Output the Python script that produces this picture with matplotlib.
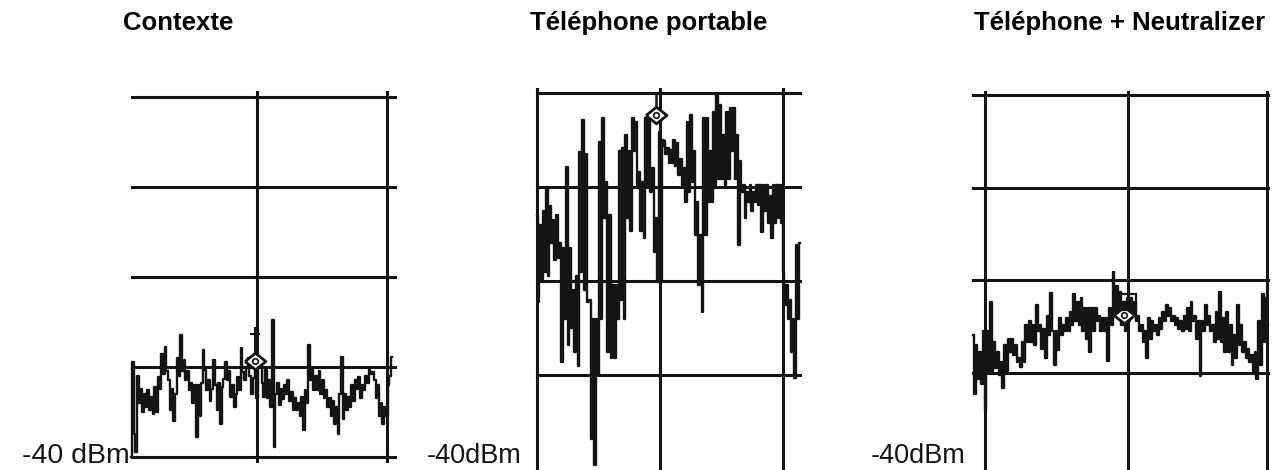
import numpy as np
import matplotlib.pyplot as plt

plt.rcParams['font.family'] = ['Liberation Sans', 'DejaVu Sans']

W, H = 1274, 470

titres = ['Contexte', 'Téléphone portable', 'Téléphone + Neutralizer']
etiquettes = ['-40 dBm', '-40dBm', '-40dBm']
niveaux = [0, -10, -20, -30, -40]   # lignes du graticule (dBm)

# relevés de l'analyseur de spectre (dBm), balayage de gauche à droite
trace_contexte = [
    -40.0, -29.5, -37.5, -39.5, -31.0, -34.0, -32.5, -35.0, -33.0, -34.5,
    -32.6, -34.8, -33.3, -35.2, -32.2, -35.0, -31.1, -32.5, -28.6, -30.8,
    -27.8, -30.5, -31.5, -34.8, -32.5, -36.0, -33.0, -29.0, -31.0, -26.4,
    -30.5, -29.2, -31.5, -30.5, -32.6, -31.8, -34.0, -32.0, -37.8, -32.0,
    -35.5, -31.8, -28.1, -30.3, -32.6, -31.5, -33.8, -32.5, -29.2, -32.0,
    -34.8, -31.8, -36.3, -32.2, -31.3, -29.4, -31.5, -30.5, -33.3, -32.0,
    -34.5, -33.0, -31.1, -32.6, -27.9, -30.6, -31.5, -30.0, -29.0, -31.0,
    -33.0, -31.2, -29.8, -33.5, -30.0, -29.5, -31.8, -33.3, -30.3, -33.5,
    -31.5, -34.5, -24.8, -38.9, -33.0, -31.8, -34.2, -32.4, -33.6, -32.0,
    -33.0, -31.5, -33.8, -32.8, -34.8, -33.5, -34.8, -34.0, -35.5, -33.3,
    -37.0, -32.6, -34.0, -27.6, -31.5, -30.3, -32.6, -31.0, -32.6, -30.5,
    -33.0, -31.5, -33.5, -32.6, -34.5, -33.5, -35.5, -33.8, -36.3, -34.5,
    -37.5, -33.0, -28.9, -35.8, -33.0, -34.8, -33.3, -34.5, -32.0, -33.8,
    -31.5, -32.5, -31.1, -33.5, -32.0, -32.6, -31.0, -31.8, -30.3, -30.8,
    -30.6, -31.5, -33.5, -32.0, -35.5, -34.0, -36.3, -34.5, -35.5, -32.0,
    -31.0, -28.9,
]

trace_portable = [
    -13.0, -22.2, -14.0, -20.0, -12.5, -19.0, -10.1, -19.5, -12.0, -16.0,
    -13.5, -17.8, -13.0, -17.5, -16.0, -28.6, -16.5, -24.0, -7.9, -26.8,
    -16.5, -25.0, -21.0, -27.5, -19.5, -29.0, -6.3, -19.0, -2.9, -21.0,
    -6.5, -22.2, -22.0, -36.8, -24.0, -39.6, -24.0, -30.0, -5.2, -24.0,
    -2.7, -13.3, -9.5, -27.5, -13.0, -28.2, -20.4, -28.2, -20.4, -24.0,
    -6.2, -22.0, -5.8, -24.0, -4.5, -13.3, -6.2, -14.7, -2.7, -6.2,
    -3.1, -9.8, -8.4, -14.7, -9.5, -15.4, -2.7, -9.8, -2.7, -10.5,
    -8.0, -16.9, -13.3, -20.1, -4.2, -20.1, -5.0, -5.3, -6.5, -5.8,
    -7.4, -6.1, -7.4, -5.0, -7.8, -5.3, -8.7, -7.0, -9.8, -8.0,
    -11.6, -3.1, -10.5, -2.3, -9.5, -6.2, -15.1, -11.6, -20.4, -15.1,
    -23.3, -2.7, -15.1, -2.7, -11.6, -6.2, -11.6, -2.0, -9.8, -0.2,
    -9.1, -1.3, -9.1, -4.5, -9.8, -2.0, -9.1, -1.6, -6.2, -1.6,
    -9.1, -4.5, -16.2, -7.2, -10.5, -9.8, -13.3, -10.5, -11.6, -9.8,
    -12.5, -10.5, -11.6, -9.8, -11.9, -9.8, -14.8, -9.8, -12.5, -9.8,
    -13.8, -11.0, -15.4, -9.8, -13.8, -9.8, -13.3, -9.8, -13.8, -19.0,
    -22.6, -20.4, -24.0, -22.0, -27.5, -24.0, -30.3, -16.2, -24.0, -16.0,
]

trace_neutralizer = [
    -25.9, -32.3, -27.0, -30.6, -27.7, -31.2, -25.5, -34.1, -25.5, -29.8,
    -22.3, -29.8, -26.6, -29.5, -27.7, -30.2, -28.8, -31.6, -27.0, -29.8,
    -26.3, -27.7, -26.3, -28.0, -27.0, -28.8, -28.4, -29.3, -26.6, -28.8,
    -24.8, -26.6, -24.4, -26.6, -24.8, -27.0, -22.7, -25.5, -24.8, -27.4,
    -25.2, -28.4, -23.8, -25.9, -21.4, -25.5, -29.1, -25.5, -27.5, -24.1,
    -25.9, -24.8, -25.5, -24.1, -25.5, -23.4, -24.8, -21.5, -24.4, -22.3,
    -24.8, -21.9, -25.5, -23.0, -26.3, -23.0, -27.7, -23.0, -25.5, -23.0,
    -24.4, -23.8, -25.5, -24.1, -25.5, -24.1, -28.7, -23.0, -24.8, -19.1,
    -23.4, -20.6, -23.4, -21.2, -24.8, -22.3, -25.5, -21.9, -24.4, -21.9,
    -23.8, -22.3, -24.4, -23.8, -25.5, -24.8, -26.6, -25.5, -28.4, -24.1,
    -26.3, -24.4, -25.5, -24.8, -25.9, -24.1, -25.2, -23.4, -24.4, -22.7,
    -23.8, -23.0, -24.4, -23.8, -24.8, -24.1, -25.2, -24.4, -25.5, -23.8,
    -25.2, -23.0, -25.5, -22.3, -24.4, -23.8, -26.3, -24.4, -30.3, -24.4,
    -25.5, -22.7, -24.8, -23.8, -25.5, -24.8, -26.6, -23.4, -26.3, -21.2,
    -26.6, -24.1, -27.7, -23.4, -27.7, -24.8, -29.1, -25.9, -28.4, -22.7,
    -27.0, -24.8, -27.7, -26.6, -28.4, -27.4, -28.8, -28.1, -29.8, -27.7,
    -30.6, -24.4, -29.1, -21.5, -26.6, -21.9, -24.8,
]

# marqueur : position dans le balayage (0-1) et niveau (dBm)
marqueur_x = [0.475, 0.452, 0.512]
marqueur_dbm = [-29.3, -2.3, -23.7]

traces = [trace_contexte, trace_portable, trace_neutralizer]

# géométrie de chaque écran en pixels
# (x début, x fin, y haut, y bas, pixel du 0 dBm, pixels par dB)
ecrans = [
    (131, 392, 88, 466, 97, 9.0),
    (537, 800, 84, 470, 93, 9.4),
    (973, 1268, 84, 470, 95, 9.27),
]
lignes_h = [(5, 0.004, 1.011), (4, 0.0, 1.0), (4, 0.0, 1.0)]
lignes_v = [([0.483, 0.981], 92, 461), ([0.0, 0.468, 0.935], 89, 470),
            ([0.041, 0.525, 0.997], 92, 470)]
titre_x = [178, 649, 1120]
etiq_x = [130, 522, 965]
etiq_taille = [20.5, 19.5, 19.5]

noir = '#141414'
diamant = [(-1, 0), (0, 0.8), (1, 0), (0, -0.8), (-1, 0)]

fig = plt.figure(figsize=(W / 100, H / 100), dpi=100)

for k in range(3):
    x0, x1, yh, yb, p0, ppdb = ecrans[k]
    ax = fig.add_axes([x0 / W, 1 - yb / H, (x1 - x0) / W, (yb - yh) / H])
    ax.axis('off')
    y = traces[k]
    n = len(y)
    ax.set_xlim(0, n - 1)
    ax.set_ylim((p0 - yb) / ppdb, (p0 - yh) / ppdb)

    nb, a, b = lignes_h[k]
    for niv in niveaux[:nb]:
        ax.axhline(niv, a, b, color=noir, lw=2.2, clip_on=False)
    fv, vt, vb = lignes_v[k]
    for f in fv:
        ax.axvline(f * (n - 1), (yb - vb) / (yb - yh), (yb - vt) / (yb - yh),
                   color=noir, lw=2.2, clip_on=False)

    ax.plot(np.arange(n), y, drawstyle='steps-mid', color=noir, lw=1.7,
            clip_on=False)

    xm = marqueur_x[k] * (n - 1)
    ym = marqueur_dbm[k]
    ax.plot(xm, ym, marker=diamant, ms=15, mfc='white', mec=noir, mew=2)
    ax.plot(xm, ym, marker='o', ms=4, mfc='none', mec=noir, mew=1.2)
    if k == 0:
        ax.plot([xm, xm], [ym + 0.9, ym + 3.6], color=noir, lw=1.5)
        ax.plot(xm, ym + 3.0, marker='_', ms=7, mec=noir, mew=1.5)
    elif k == 1:
        ax.plot([xm, xm], [ym + 1.0, 0], color=noir, lw=1.8)
        ax.plot(xm, 0, marker='_', ms=13, mec=noir, mew=2)
        ax.plot(xm + 4, ym - 3.0, marker='s', ms=5, color=noir)
    else:
        ax.plot(xm + 2, ym + 1.4, marker='s', ms=11, mfc='none', mec=noir,
                mew=1.6)

    fig.text(titre_x[k] / W, 1 - 23 / H, titres[k], ha='center', va='center',
             fontsize=18.5, fontweight='bold', color='black')
    fig.text(etiq_x[k] / W, 1 - 456 / H, etiquettes[k], ha='right',
             va='center', fontsize=etiq_taille[k], color=noir)

fig.savefig('out.png', dpi=100, facecolor='white')
